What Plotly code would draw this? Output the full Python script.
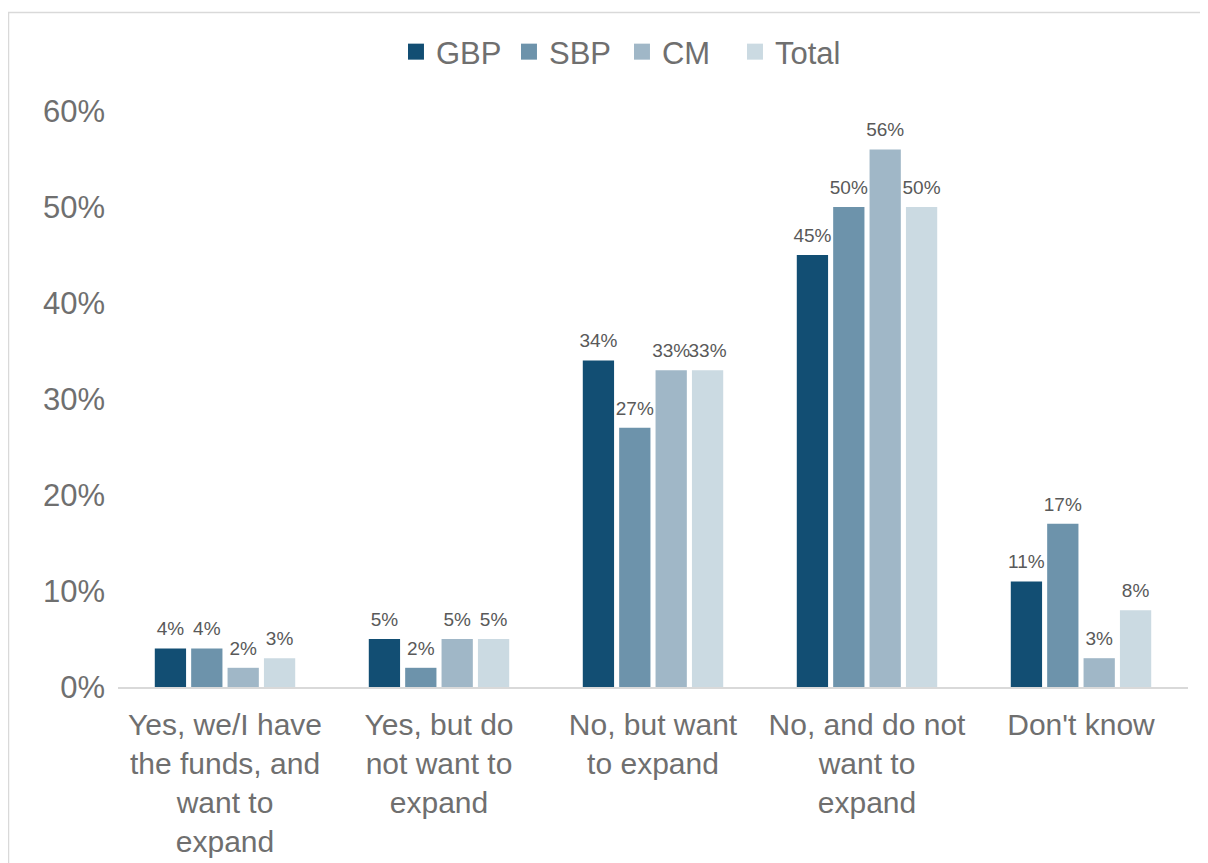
import plotly.graph_objects as go

categories = [
    "Yes, we/I have<br>the funds, and<br>want to<br>expand",
    "Yes, but do<br>not want to<br>expand",
    "No, but want<br>to expand",
    "No, and do not<br>want to<br>expand",
    "Don't know",
]
series_names = ["GBP", "SBP", "CM", "Total"]
gbp = [0.04, 0.05, 0.34, 0.45, 0.11]
sbp = [0.04, 0.02, 0.27, 0.50, 0.17]
cm = [0.02, 0.05, 0.33, 0.56, 0.03]
total = [0.03, 0.05, 0.33, 0.50, 0.08]
tick_vals = [0, 0.1, 0.2, 0.3, 0.4, 0.5, 0.6]
tick_text = ["0%", "10%", "20%", "30%", "40%", "50%", "60%"]

colors = ["#124E73", "#6D93AB", "#A0B7C7", "#CBDAE2"]
values = [gbp, sbp, cm, total]

FONT = "Liberation Sans, Arial, sans-serif"

fig = go.Figure()
for name, vals, col in zip(series_names, values, colors):
    fig.add_trace(go.Bar(
        x=categories, y=vals, name=name, showlegend=False,
        offsetgroup=name,
        marker=dict(color=col, line=dict(width=0)),
    ))
# value labels, grouped the same way as the bars
for name, vals in zip(series_names, values):
    fig.add_trace(go.Scatter(
        x=categories, y=vals, name=name, showlegend=False,
        offsetgroup=name, mode="markers+text",
        marker=dict(size=12, opacity=0),
        text=[f"{round(v*100)}%" for v in vals],
        textposition="top center",
        textfont=dict(family=FONT, size=19, color="#595959"),
        cliponaxis=False, hoverinfo="skip",
    ))
# legend entries with larger square swatches
for name, col in zip(series_names, colors):
    fig.add_trace(go.Scatter(
        x=[None], y=[None], mode="markers", name=name, offsetgroup=name,
        marker=dict(symbol="square", size=16, color=col),
    ))

# page body has an 8px margin; figure coordinates are offset by it
L, R, T, B = 110, 20, 103, 176
W, H = 1200, 855
pw, ph = W - L - R, H - T - B

fig.update_layout(
    width=W, height=H,
    margin=dict(l=L, r=R, t=T, b=B, autoexpand=False),
    paper_bgcolor="white", plot_bgcolor="white",
    barmode="group", bargap=0.32, bargroupgap=0.14,
    scattermode="group", scattergap=0.32,
    font=dict(family=FONT, color="#6f6f6f"),
    legend=dict(
        orientation="h", x=0.471, xanchor="center", y=1 + (T - 44) / ph, yanchor="middle",
        font=dict(size=31, color="#6f6f6f"),
        itemwidth=30, traceorder="normal",
        entrywidth=68, entrywidthmode="pixels",
    ),
    xaxis=dict(
        showline=True, linecolor="#d9d9d9", linewidth=2,
        tickfont=dict(size=30, color="#6f6f6f"),
        ticks="", showgrid=False, ticklabelstandoff=10, automargin=False,
    ),
    yaxis=dict(
        range=[0, 0.6], tickvals=tick_vals, ticktext=tick_text,
        showgrid=False, zeroline=False, showline=False,
        tickfont=dict(size=31, color="#6f6f6f"),
        ticks="", ticklabelstandoff=12, automargin=False,
    ),
    shapes=[dict(
        type="rect", xref="paper", yref="paper",
        x0=(0.5 - L) / pw, x1=1.2, y0=-0.5, y1=(H - B - 4.5) / ph,
        line=dict(color="#d9d9d9", width=1.5), fillcolor="rgba(0,0,0,0)",
        layer="below",
    )],
)

fig.write_html("out.html")
